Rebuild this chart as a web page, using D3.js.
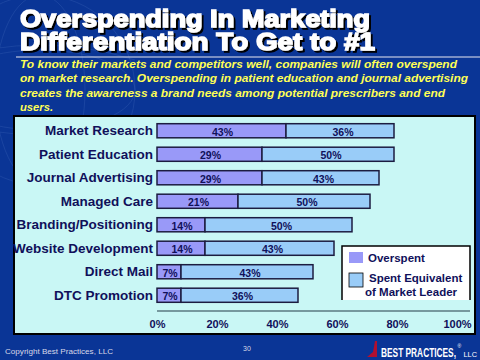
<!DOCTYPE html>
<html><head><meta charset="utf-8">
<script src="https://cdn.jsdelivr.net/npm/d3@7"></script>
<style>html,body{margin:0;padding:0;background:#0a3596;}svg{display:block;}</style>
</head><body>
<script>
const categories = ["Market Research","Patient Education","Journal Advertising","Managed Care","Branding/Positioning","Website Development","Direct Mail","DTC Promotion"];
// bar lengths as drawn (percent of spend)
const overspent = [43, 35, 35, 27, 16, 16, 8, 8];
const spentEquivalent = [36, 44, 39, 44, 49, 43, 44, 39];
// labels printed on the bars
const overspentLabels = ["43%","29%","29%","21%","14%","14%","7%","7%"];
const equivalentLabels = ["36%","50%","43%","50%","50%","43%","43%","36%"];
const xTicks = [0, 20, 40, 60, 80, 100];
const titleLines = ["Overspending In Marketing","Differentiation To Get to #1"];
const subtitleLines = [
 "To know their markets and competitors well, companies will often overspend",
 "on market research. Overspending in patient education and journal advertising",
 "creates the awareness a brand needs among potential prescribers and end",
 "users."];
const legendItems = ["Overspent","Spent Equivalent"];

const W=480,H=360;
const FF="Liberation Sans, Arial, sans-serif";
const svg=d3.select("body").append("svg").attr("width",W).attr("height",H);
const defs=svg.append("defs");
defs.append("filter").attr("id","shadow").attr("x","-5%").attr("y","-20%").attr("width","115%").attr("height","150%")
  .append("feDropShadow").attr("dx",2).attr("dy",2).attr("stdDeviation",0).attr("flood-color","#000").attr("flood-opacity",1);
svg.append("rect").attr("width",W).attr("height",H).attr("fill","#0a3596");

// faint globe watermark
const g0=svg.append("g").attr("fill","none").attr("stroke","#3a62b4").attr("stroke-opacity",0.35).attr("stroke-width",1);
g0.append("circle").attr("cx",40).attr("cy",90).attr("r",95);
g0.append("ellipse").attr("cx",40).attr("cy",90).attr("rx",45).attr("ry",95);
g0.append("ellipse").attr("cx",40).attr("cy",90).attr("rx",95).attr("ry",40);
g0.append("path").attr("d","M-55,60 Q40,30 135,60 M-55,120 Q40,150 135,120");

// title
const titleW=[350,355];
const tt=svg.append("text").attr("font-family",FF).attr("font-weight","bold").attr("font-size",24)
  .attr("fill","#fff").attr("stroke","#fff").attr("stroke-width",1.4).attr("filter","url(#shadow)");
titleLines.forEach((t,i)=>{
  tt.append("tspan").attr("x",20).attr("y",[27,50][i]).text(t)
    .attr("textLength",titleW[i]).attr("lengthAdjust","spacingAndGlyphs");
});
svg.append("line").attr("x1",16).attr("x2",480).attr("y1",57).attr("y2",57).attr("stroke","#e8e8f0").attr("stroke-width",1);

// subtitle
const subW=[437,448,425,33];
subtitleLines.forEach((t,i)=>{
  svg.append("text").attr("x",20).attr("y",68+i*14.3).text(t)
    .attr("font-family",FF).attr("font-weight","bold").attr("font-style","italic")
    .attr("font-size",11.5).attr("fill","#ffff55")
    .attr("textLength",subW[i]).attr("lengthAdjust","spacingAndGlyphs");
});

// panel
svg.append("rect").attr("x",14).attr("y",116).attr("width",461).attr("height",218)
  .attr("fill","#c9f7f5").attr("stroke","#000").attr("stroke-width",2);

const x=d3.scaleLinear().domain([0,100]).range([157,457]);
const y=d3.scaleBand().domain(categories).range([119,307]).paddingInner(0.4).paddingOuter(0.2);
const navy="#10105a";

// axis
const ax=svg.append("g").attr("transform","translate(0,311)")
  .call(d3.axisBottom(x).tickValues(xTicks).tickFormat(d=>d+"%").tickSize(0).tickPadding(9));
ax.select(".domain").attr("stroke","#5a7a80").attr("stroke-width",1.5).attr("d","M157,0H470");
ax.selectAll("text").attr("font-family",FF).attr("font-weight","bold")
  .attr("font-size",11).attr("fill",navy);

// bars
const rows=svg.append("g").selectAll("g").data(categories).join("g");
rows.append("rect").attr("x",x(0)).attr("y",d=>y(d)).attr("height",y.bandwidth())
  .attr("width",(d,i)=>x(overspent[i])-x(0)).attr("fill","#9999f8").attr("stroke","#1c1c40").attr("stroke-width",1.5);
rows.append("rect").attr("x",(d,i)=>x(overspent[i])).attr("y",d=>y(d)).attr("height",y.bandwidth())
  .attr("width",(d,i)=>x(overspent[i]+spentEquivalent[i])-x(overspent[i])).attr("fill","#99ccf8").attr("stroke","#1c1c40").attr("stroke-width",1.5);
rows.append("text").attr("x",(d,i)=>(x(0)+x(overspent[i]))/2+1).attr("y",d=>y(d)+y.bandwidth()/2+5)
  .attr("text-anchor","middle").text((d,i)=>overspentLabels[i])
  .attr("font-family",FF).attr("font-weight","bold").attr("font-size",10.5).attr("fill",navy);
rows.append("text").attr("x",(d,i)=>(x(overspent[i])+x(overspent[i]+spentEquivalent[i]))/2+3).attr("y",d=>y(d)+y.bandwidth()/2+5)
  .attr("text-anchor","middle").text((d,i)=>equivalentLabels[i])
  .attr("font-family",FF).attr("font-weight","bold").attr("font-size",10.5).attr("fill",navy);
rows.append("text").attr("x",153).attr("y",d=>y(d)+y.bandwidth()/2+4.5).attr("text-anchor","end").text(d=>d)
  .attr("font-family",FF).attr("font-weight","bold").attr("font-size",13.5).attr("fill",navy);

// legend
const lg=svg.append("g");
lg.append("rect").attr("x",342).attr("y",246).attr("width",128).attr("height",54).attr("fill","#fff");
lg.append("path").attr("d","M342,300V246H470V300").attr("fill","none").attr("stroke","#000").attr("stroke-width",1.5);
lg.append("rect").attr("x",349).attr("y",252).attr("width",14).attr("height",11).attr("fill","#9999f8");
lg.append("rect").attr("x",349).attr("y",273).attr("width",14).attr("height",14).attr("fill","#99ccf8").attr("stroke","#000").attr("stroke-width",0.8);
lg.append("text").attr("x",368).attr("y",262).text(legendItems[0])
  .attr("font-family",FF).attr("font-weight","bold").attr("font-size",11.5).attr("fill",navy);
lg.append("text").attr("x",369).attr("y",282).text(legendItems[1])
  .attr("font-family",FF).attr("font-weight","bold").attr("font-size",11.5).attr("fill",navy);
lg.append("text").attr("x",365).attr("y",296).text("of Market Leader")
  .attr("font-family",FF).attr("font-weight","bold").attr("font-size",11.5).attr("fill",navy);

// footer
svg.append("text").attr("x",5).attr("y",354).text("Copyright Best Practices, LLC")
  .attr("font-family",FF).attr("font-size",8).attr("fill","#d8d8e8")
  .attr("textLength",108).attr("lengthAdjust","spacingAndGlyphs");
svg.append("text").attr("x",247).attr("y",351).text("30").attr("text-anchor","middle")
  .attr("font-family",FF).attr("font-size",7).attr("fill","#d8d8e8");
svg.append("path").attr("d","M367,357 L373,352 L375,341 L377,341 L377,357 Z").attr("fill","#b01030");
svg.append("text").attr("transform","translate(381,357) scale(1,1.5)").text("BEST PRACTICES,")
  .attr("font-family",FF).attr("font-weight","bold").attr("font-size",8.5).attr("fill","#fff")
  .attr("textLength",75).attr("lengthAdjust","spacingAndGlyphs");
svg.append("text").attr("x",457.5).attr("y",348).text("®")
  .attr("font-family",FF).attr("font-size",5).attr("fill","#fff");
svg.append("text").attr("x",463.5).attr("y",357).text("LLC")
  .attr("font-family",FF).attr("font-size",7).attr("fill","#fff")
  .attr("textLength",13.5).attr("lengthAdjust","spacingAndGlyphs");
</script>
</body></html>
